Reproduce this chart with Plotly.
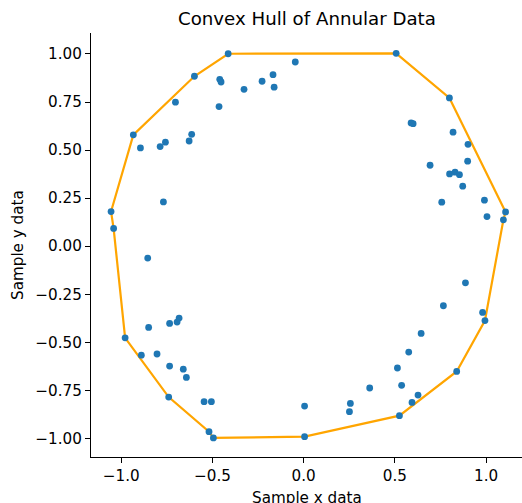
import plotly.graph_objects as go

x_vals = [-0.414, -0.046, -0.599, -0.460, -0.453, -0.168, -0.228, -0.162, -0.327, -0.703,
          -0.464, -0.934, -0.614, -0.628, -0.895, -0.787, -0.758, -0.769, -1.056, -1.042,
          0.507, 0.799, 0.589, 0.600, 0.819, 0.901, 0.693, 0.899, 0.800, 0.830,
          0.854, 0.872, 0.757, 0.991, 1.107, 1.005, 1.095,
          -0.855, -0.979, -0.850, -0.735, -0.694, -0.683, -0.890, -0.804, -0.735,
          -0.660, -0.643, -0.740, -0.546, -0.506, -0.519, -0.495, 0.005, 0.005,
          0.887, 0.766, 0.981, 0.994, 0.644, 0.576, 0.514, 0.537, 0.362, 0.256,
          0.251, 0.627, 0.594, 0.839, 0.525]
y_vals = [1.001, 0.958, 0.884, 0.868, 0.854, 0.892, 0.858, 0.827, 0.816, 0.749,
          0.726, 0.579, 0.582, 0.547, 0.511, 0.518, 0.541, 0.230, 0.180, 0.092,
          1.003, 0.771, 0.641, 0.637, 0.593, 0.530, 0.421, 0.442, 0.376, 0.385,
          0.372, 0.312, 0.229, 0.239, 0.178, 0.154, 0.137,
          -0.062, -0.477, -0.423, -0.402, -0.395, -0.374, -0.567, -0.561, -0.624,
          -0.640, -0.683, -0.785, -0.809, -0.809, -0.965, -0.998, -0.832, -0.991,
          -0.191, -0.310, -0.345, -0.387, -0.454, -0.551, -0.634, -0.724, -0.738, -0.818,
          -0.861, -0.775, -0.813, -0.652, -0.882]

# hull vertex order (indices into the point arrays), closed
hull_idx = [34, 21, 20, 0, 2, 11, 18, 19, 38, 48, 51, 52, 54, 69, 68, 58, 36, 34]

hx = [x_vals[i] for i in hull_idx]
hy = [y_vals[i] for i in hull_idx]

FONT = "DejaVu Sans"
TICK_SIZE = 15.2
fig = go.Figure()
fig.add_trace(go.Scatter(x=hx, y=hy, mode="lines",
                         line=dict(color="#FFA500", width=2.2), hoverinfo="skip"))
fig.add_trace(go.Scatter(x=x_vals, y=y_vals, mode="markers",
                         marker=dict(color="#1f77b4", size=6.8, line=dict(width=0))))

axis_common = dict(showgrid=False, zeroline=False, showline=True, linecolor="black",
                   linewidth=1.2, ticks="outside", ticklen=5, tickwidth=1.2, tickcolor="black",
                   tickfont=dict(family=FONT, size=TICK_SIZE, color="black"))

fig.update_layout(
    width=522, height=503,
    margin=dict(l=91, r=0, t=33, b=46),
    plot_bgcolor="white", paper_bgcolor="white",
    showlegend=False,
    font=dict(family=FONT, color="black"),
    xaxis=dict(range=[-1.166, 1.197], tickvals=[-1.0, -0.5, 0.0, 0.5, 1.0],
               ticktext=["−1.0", "−0.5", "0.0", "0.5", "1.0"], **axis_common),
    yaxis=dict(range=[-1.097, 1.109], tickvals=[-1.0, -0.75, -0.5, -0.25, 0.0, 0.25, 0.5, 0.75, 1.0],
               ticktext=["−1.00", "−0.75", "−0.50", "−0.25", "0.00", "0.25", "0.50", "0.75", "1.00"],
               **axis_common),
    annotations=[
        dict(text="Convex Hull of Annular Data", xref="paper", yref="paper", x=0.5, y=1,
             yshift=2, xanchor="center", yanchor="bottom", showarrow=False,
             font=dict(family=FONT, size=18.2, color="black")),
        dict(text="Sample x data", xref="paper", yref="paper", x=0.5, y=0,
             yshift=-30, xanchor="center", yanchor="top", showarrow=False,
             font=dict(family=FONT, size=TICK_SIZE, color="black")),
        dict(text="Sample y data", xref="paper", yref="paper", x=0, y=0.5,
             xshift=-62, xanchor="right", yanchor="middle", textangle=-90, showarrow=False,
             font=dict(family=FONT, size=TICK_SIZE, color="black")),
    ],
)

fig.write_html("out.html")
